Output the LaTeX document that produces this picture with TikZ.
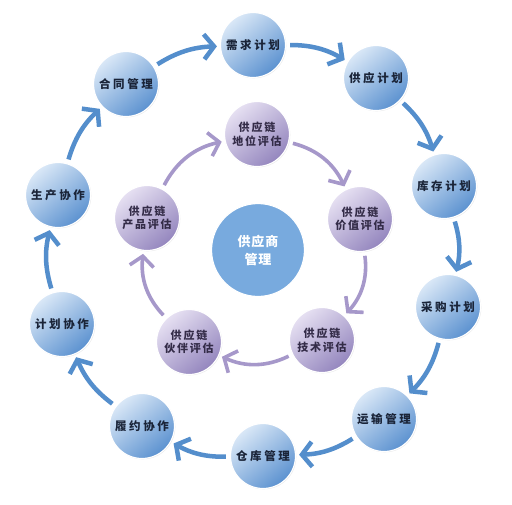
\documentclass[tikz,border=0pt]{standalone}
\usepackage{fontspec}
\newfontfamily\cjk[LetterSpace=22]{Noto Sans CJK SC}
\newfontfamily\cjkin[LetterSpace=16]{Noto Sans CJK SC}
\newfontfamily\cjkhub[LetterSpace=6]{Noto Sans CJK SC}
\usepackage{tikz}
\usetikzlibrary{arrows.meta,shadows}
\definecolor{ringlight}{RGB}{218,232,247}
\definecolor{ringdark}{RGB}{92,146,208}
\definecolor{ringline}{RGB}{84,142,204}
\definecolor{evallight}{RGB}{230,224,242}
\definecolor{evaldark}{RGB}{148,134,190}
\definecolor{evalline}{RGB}{166,152,202}
\definecolor{hubfill}{RGB}{120,170,222}
\definecolor{ringtext}{RGB}{26,36,56}
\definecolor{evaltext}{RGB}{52,44,72}
\tikzstyle{outer} = [circle, minimum size=65pt, inner sep=0pt, draw=white, line width=1.2pt,
                top color=ringlight, bottom color=ringdark, shading angle=40,
                drop shadow={opacity=0.18, shadow xshift=0.8pt, shadow yshift=-0.8pt},
                text=ringtext, font=\cjk\bfseries\fontsize{11.5}{13}\selectfont]
\tikzstyle{inner} = [circle, minimum size=65pt, inner sep=0pt, draw=white, line width=1.2pt,
                top color=evallight, bottom color=evaldark, shading angle=40,
                drop shadow={opacity=0.18, shadow xshift=0.8pt, shadow yshift=-0.8pt},
                text=evaltext, align=center, font=\cjkin\bfseries\fontsize{11}{13.5}\selectfont]
\tikzstyle{hub} = [circle, minimum size=93pt, inner sep=0pt, draw=white, line width=1.2pt,
                fill=hubfill, text=white, align=center,
                font=\cjkhub\bfseries\fontsize{13}{18}\selectfont]
\tikzstyle{line} = [draw=ringline, line width=4.5pt, -{Straight Barb[length=10pt,width=25pt]},
                shorten <=4pt, shorten >=3pt]
\tikzstyle{iline} = [draw=evalline, line width=3.6pt, -{Straight Barb[length=10pt,width=24pt]},
                shorten <=4pt, shorten >=3pt]

\begin{document}
\begin{tikzpicture}[x=1pt,y=1pt]
        \useasboundingbox[fill=white] (0,0) rectangle (512,-504);
        % outer ring
        \node[outer](contract) at (126,-84){合同管理};
        \node[outer](demand) at (253,-45){需求计划};
        \node[outer](supplyplan) at (376,-78){供应计划};
        \node[outer](inventory) at (444,-186){库存计划};
        \node[outer](purchase) at (448,-307){采购计划};
        \node[outer](transport) at (384,-419){运输管理};
        \node[outer](warehouse) at (263,-456){仓库管理};
        \node[outer](fulfil) at (142,-426){履约协作};
        \node[outer](plancoop) at (62,-324){计划协作};
        \node[outer](prodcoop) at (58,-195){生产协作};
        % inner ring
        \node[inner](position) at (257,-134){供应链\\地位评估};
        \node[inner](value) at (360,-219){供应链\\价值评估};
        \node[inner](tech) at (322,-340){供应链\\技术评估};
        \node[inner](partner) at (189,-342){供应链\\伙伴评估};
        \node[inner](product) at (147,-218){供应链\\产品评估};
        \node[hub](supplier) at (258,-250){供应商\\管理};
        \path[line] (contract) to[bend left=15] (demand);
        \path[line] (demand) to[bend left=15] (supplyplan);
        \path[line] (supplyplan) to[bend left=15] (inventory);
        \path[line] (inventory) to[bend left=15] (purchase);
        \path[line] (purchase) to[bend left=15] (transport);
        \path[line] (transport) to[bend left=15] (warehouse);
        \path[line] (warehouse) to[bend left=15] (fulfil);
        \path[line] (fulfil) to[bend left=15] (plancoop);
        \path[line] (plancoop) to[bend left=15] (prodcoop);
        \path[line] (prodcoop) to[bend left=15] (contract);
        \path[iline] (position) to[bend left=25] (value);
        \path[iline] (value) to[bend left=25] (tech);
        \path[iline] (tech) to[bend left=25] (partner);
        \path[iline] (partner) to[bend left=25] (product);
        \path[iline] (product) to[bend left=25] (position);
    \end{tikzpicture}
\end{document}
